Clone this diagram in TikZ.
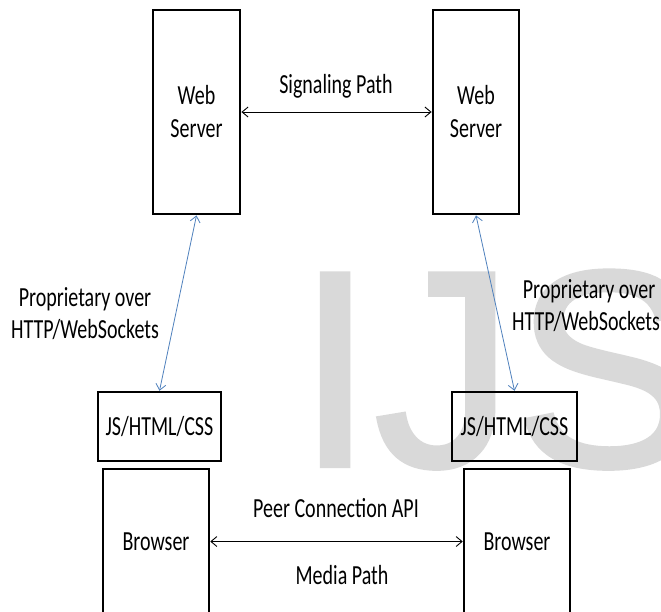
\documentclass[tikz,border=0pt]{standalone}
\usepackage{fontspec}
\usepackage{graphicx}
\setmainfont{Carlito}
\newfontfamily\markfont[FakeBold=1.5]{Liberation Sans}
\usetikzlibrary{arrows.meta}
\definecolor{linkblue}{HTML}{4F81BD}
\definecolor{markgray}{HTML}{D9D9D9}
% labels are set in a tall, narrow cut
\newcommand\tallt[1]{\scalebox{1}[1.38]{#1}}
\tikzset{
  box/.style={draw=black, line width=2.5pt, rectangle, inner sep=0pt,
    align=center, font=\fontsize{20}{33}\selectfont},
  serverbox/.style={box, line width=2.8pt},
  lbl/.style={inner sep=0pt, align=center, font=\fontsize{20}{33}\selectfont},
  biarrow/.style={line width=0.9pt, {Straight Barb[length=6pt,width=10pt]}-{Straight Barb[length=6pt,width=10pt]}},
  bluearrow/.style={biarrow, draw=linkblue, line width=0.8pt}
}
\begin{document}
\begin{tikzpicture}[x=1pt, y=-1pt]
\useasboundingbox (0,0) rectangle (661,611);
\clip (0,0) rectangle (661,611);
\fill[white] (0,0) rectangle (661,611);

% watermark letters in the background
\node[anchor=base west, inner sep=0pt, text=markgray,
  font=\markfont\fontsize{280}{280}\selectfont] (wm) at (296,466) {IJS};

% web servers
\node[serverbox, minimum width=87pt, minimum height=204pt] (ws1) at (196.5,112) {\tallt{Web}\\\tallt{Server}};
\node[serverbox, minimum width=86pt, minimum height=204pt] (ws2) at (476,112) {\tallt{Web}\\\tallt{Server}};

% client-side application code
\node[box, minimum width=123pt, minimum height=69pt] (js1) at (159.5,426.5) {\tallt{JS/HTML/CSS}};
\node[box, minimum width=125pt, minimum height=69pt] (js2) at (514.5,426.5) {\tallt{JS/HTML/CSS}};

% browsers
\node[box, minimum width=106pt, minimum height=145pt] (br1) at (156,541.5) {\tallt{Browser}};
\node[box, minimum width=106pt, minimum height=145pt] (br2) at (517,541.5) {\tallt{Browser}};

% signaling path between the servers
\draw[biarrow] (ws1.east) -- (ws2.west);
\node[lbl, anchor=base] (sig) at (336,93) {\tallt{Signaling Path}};

% server to application links
\draw[bluearrow] (ws1.south) -- (js1.north);
\draw[bluearrow] (ws2.south) -- (js2.north);
\node[lbl, anchor=base] (p1a) at (85,306) {\tallt{Proprietary over}};
\node[lbl, anchor=base] (p1b) at (85,338) {\tallt{HTTP/WebSockets}};
\node[lbl, anchor=base] (p2a) at (589,298) {\tallt{Proprietary over}};
\node[lbl, anchor=base] (p2b) at (586,330) {\tallt{HTTP/WebSockets}};

% media path between the browsers
\draw[biarrow] (br1.east) -- (br2.west);
\node[lbl, anchor=base] (pc) at (336,517) {\tallt{Peer Connection API}};
\node[lbl, anchor=base] (mp) at (342,584) {\tallt{Media Path}};
\end{tikzpicture}
\end{document}
